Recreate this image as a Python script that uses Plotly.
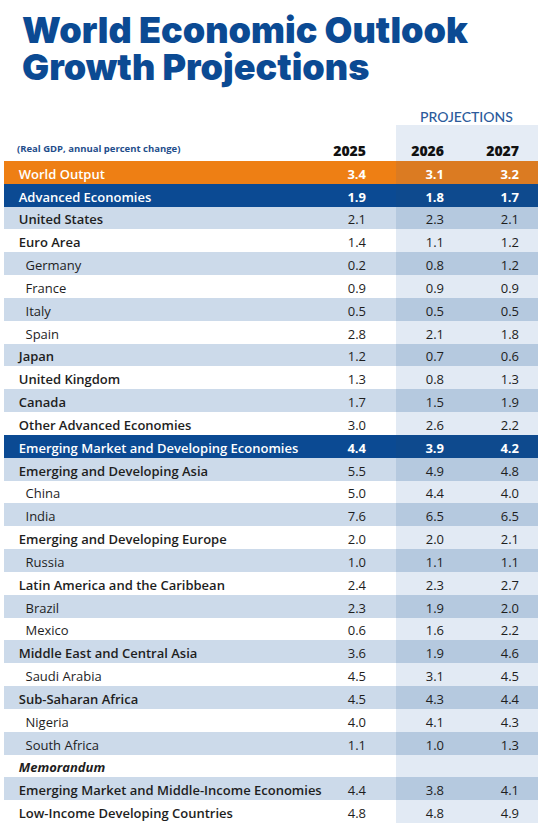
import plotly.graph_objects as go

labels = ["World Output", "Advanced Economies", "United States", "Euro Area", "Germany", "France",
          "Italy", "Spain", "Japan", "United Kingdom", "Canada", "Other Advanced Economies",
          "Emerging Market and Developing Economies", "Emerging and Developing Asia", "China", "India",
          "Emerging and Developing Europe", "Russia", "Latin America and the Caribbean", "Brazil", "Mexico",
          "Middle East and Central Asia", "Saudi Arabia", "Sub-Saharan Africa", "Nigeria", "South Africa",
          "Memorandum", "Emerging Market and Middle-Income Economies", "Low-Income Developing Countries"]
# 0 = world, 1 = aggregate banner, 2 = region, 3 = country, 4 = memorandum heading
levels = [0, 1, 2, 2, 3, 3, 3, 3, 2, 2, 2, 2,
          1, 2, 3, 3, 2, 3, 2, 3, 3, 2, 3, 2, 3, 3, 4, 2, 2]
years = ["2025", "2026", "2027"]
v2025 = [3.4, 1.9, 2.1, 1.4, 0.2, 0.9, 0.5, 2.8, 1.2, 1.3, 1.7, 3.0, 4.4, 5.5, 5.0, 7.6, 2.0, 1.0, 2.4, 2.3,
         0.6, 3.6, 4.5, 4.5, 4.0, 1.1, None, 4.4, 4.8]
v2026 = [3.1, 1.8, 2.3, 1.1, 0.8, 0.9, 0.5, 2.1, 0.7, 0.8, 1.5, 2.6, 3.9, 4.9, 4.4, 6.5, 2.0, 1.1, 2.3, 1.9,
         1.6, 1.9, 3.1, 4.3, 4.1, 1.0, None, 3.8, 4.8]
v2027 = [3.2, 1.7, 2.1, 1.2, 1.2, 0.9, 0.5, 1.8, 0.6, 1.3, 1.9, 2.2, 4.2, 4.8, 4.0, 6.5, 2.1, 1.1, 2.7, 2.0,
         2.2, 4.6, 4.5, 4.4, 4.3, 1.3, None, 4.1, 4.9]

W, H = 543, 835
NAVY = "#0B4A93"
ORANGE = "#EE7F14"
ORANGE_P = "#DB7B22"
NAVY_P = "#0E4A8E"
LIGHT = "#CCDAEA"
LIGHT_P = "#B5C9DF"
WHITE = "#FFFFFF"
WHITE_P = "#E2EAF4"
HDR_FILL = "#E5ECF5"
TXT = "#1E1E1E"
CLEAR = "rgba(0,0,0,0)"
FONT = "Open Sans"
FS = 13

base, proj = [], []
k = 0
for lv in levels:
    if lv == 0:
        base.append(ORANGE); proj.append(ORANGE_P); k = 0
    elif lv == 1:
        base.append(NAVY); proj.append(NAVY_P); k = 0
    else:
        if k % 2 == 0:
            base.append(LIGHT); proj.append(LIGHT_P)
        else:
            base.append(WHITE); proj.append(WHITE_P)
        k += 1

NB = "\u00a0"
N = len(labels)
empty = [""] * N
colw = [338, 32, 22, 56, 75, 11]
colw_hdr = [326, 44, 22, 56, 75, 11]
aligns = ["left", "right", "right", "right", "right", "right"]
dom = dict(x=[4 / W, 538 / W], y=[0, 1 - 125 / H])
HDR_H = 12
ROW_H = 22.83


def label_text(keep):
    out = []
    for lab, lv in zip(labels, levels):
        pad = NB * 4 if lv == 3 else NB * 2
        out.append(pad + lab if keep(lv) else "")
    return out


def num_text(vals, keep):
    return ["" if (v is None or not keep(lv)) else f"{v:.1f}" for v, lv in zip(vals, levels)]


def colour(lv):
    return WHITE if lv <= 1 else TXT


cols = [colour(lv) for lv in levels]
blank_hdr = [["", "", ""]] * 6

fig = go.Figure()

# back table: fills, banner rows and region labels (bold)
bold_lab = lambda lv: lv <= 2
bold_num = lambda lv: lv <= 1
fig.add_trace(go.Table(
    domain=dom, columnwidth=colw,
    header=dict(
        values=blank_hdr,
        fill=dict(color=[WHITE, WHITE, WHITE, HDR_FILL, HDR_FILL, HDR_FILL]),
        line=dict(width=0), align=aligns, font=dict(family=FONT, size=12),
        height=HDR_H,
    ),
    cells=dict(
        values=[label_text(bold_lab), num_text(v2025, bold_num), empty,
                num_text(v2026, bold_num), num_text(v2027, bold_num), empty],
        fill=dict(color=[base, base, base, proj, proj, proj]),
        line=dict(width=0), align=aligns,
        font=dict(family=FONT, size=FS, color=[cols] * 6,
                  weight=[600, 700, 700, 700, 700, 700]),
        height=ROW_H,
    ),
))

# front table: country labels (regular) and ordinary numbers
reg_lab = lambda lv: lv == 3
reg_num = lambda lv: lv >= 2
fig.add_trace(go.Table(
    domain=dom, columnwidth=colw,
    header=dict(values=blank_hdr, fill=dict(color=CLEAR), line=dict(width=0), height=HDR_H,
                font=dict(family=FONT, size=12)),
    cells=dict(
        values=[label_text(reg_lab), num_text(v2025, reg_num), empty,
                num_text(v2026, reg_num), num_text(v2027, reg_num), empty],
        fill=dict(color=CLEAR), line=dict(width=0), align=aligns,
        font=dict(family=FONT, size=FS, color=[cols] * 6,
                  weight=[400, 500, 500, 500, 500, 500]),
        height=ROW_H,
    ),
))

# front table: memorandum heading (bold italic)
memo_lab = lambda lv: lv == 4
fig.add_trace(go.Table(
    domain=dom, columnwidth=colw,
    header=dict(values=blank_hdr, fill=dict(color=CLEAR), line=dict(width=0), height=HDR_H,
                font=dict(family=FONT, size=12)),
    cells=dict(
        values=[label_text(memo_lab), empty, empty, empty, empty, empty],
        fill=dict(color=CLEAR), line=dict(width=0), align=aligns,
        font=dict(family=FONT, size=FS, color=[cols] * 6,
                  weight=[700] * 6, style=["italic"] * 6),
        height=ROW_H,
    ),
))

# front table: column headings only
fig.add_trace(go.Table(
    domain=dom, columnwidth=colw_hdr,
    header=dict(
        values=[["", NB * 2 + "(Real GDP, annual percent change)", ""], ["", years[0], ""], ["", "", ""],
                ["", years[1], ""], ["", years[2], ""], ["", "", ""]],
        fill=dict(color=CLEAR), line=dict(width=0), align=aligns, height=HDR_H,
        font=dict(family=FONT, size=[9.5, 14, 14, 14, 14, 14],
                  color=["#1F4E8C", "#111111", "#111111", "#111111", "#111111", "#111111"],
                  weight=[700, 800, 800, 800, 800, 800]),
    ),
    cells=dict(values=[empty] * 6, fill=dict(color=CLEAR), line=dict(width=0), height=ROW_H,
               font=dict(family=FONT, size=FS)),
))

fig.add_annotation(text="World Economic Outlook", x=20 / W, y=1 - 30 / H, xref="paper", yref="paper",
                   xanchor="left", yanchor="middle", showarrow=False,
                   font=dict(family="Inter", size=36, color=NAVY, weight=900))
fig.add_annotation(text="Growth Projections", x=20 / W, y=1 - 67 / H, xref="paper", yref="paper",
                   xanchor="left", yanchor="middle", showarrow=False,
                   font=dict(family="Inter", size=36, color=NAVY, weight=900))
fig.add_annotation(text="PROJECTIONS", x=466 / W, y=1 - 116 / H, xref="paper", yref="paper",
                   xanchor="center", yanchor="middle", showarrow=False,
                   font=dict(family="Lato", size=14, color="#2C5B9B", weight=500))

fig.update_layout(width=W, height=H, margin=dict(l=0, r=0, t=0, b=0),
                  paper_bgcolor="white", plot_bgcolor="white", showlegend=False)
fig.write_html("out.html", config={"displayModeBar": False},
               post_script="document.body.style.margin='0';document.body.style.overflow='hidden';")
